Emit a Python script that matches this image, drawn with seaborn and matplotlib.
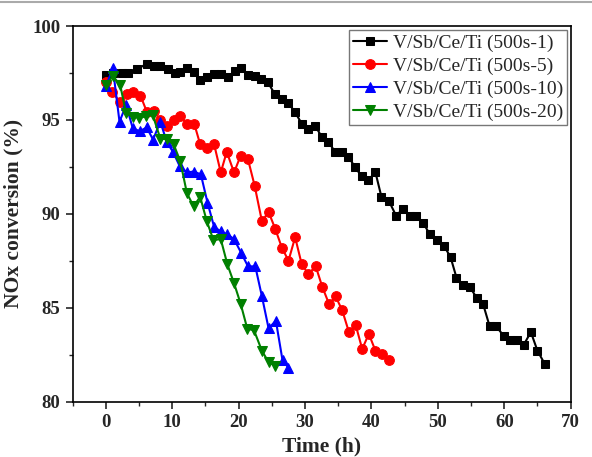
import matplotlib
matplotlib.use("Agg")
import matplotlib.pyplot as plt
import seaborn as sns
import pandas as pd
from matplotlib.ticker import MultipleLocator
from matplotlib.lines import Line2D

# ---- data ----
x_s1 = [0, 1.1, 2.4, 3.4, 4.7, 6.2, 7.2, 8.2, 9.4, 10.4, 11.2, 12.2, 13.2, 14.2, 15.2,
        16.3, 17.3, 18.4, 19.4, 20.3, 21.4, 22.4, 23.4, 24.4, 25.4, 26.5, 27.5, 28.5,
        29.5, 30.5, 31.5, 32.5, 33.5, 34.5, 35.5, 36.5, 37.5, 38.5, 39.5, 40.6, 41.5,
        42.6, 43.7, 44.7, 45.8, 46.7, 47.8, 48.8, 49.8, 50.9, 51.9, 52.8, 53.8, 54.8,
        55.9, 56.8, 57.8, 58.8, 59.9, 60.9, 61.9, 62.9, 64.0, 65.0, 66.1]
y_s1 = [97.4, 97.5, 97.5, 97.5, 97.7, 98.0, 97.85, 97.85, 97.7, 97.5, 97.55, 97.75,
        97.55, 97.1, 97.3, 97.45, 97.45, 97.3, 97.6, 97.75, 97.4, 97.35, 97.2, 97.0,
        96.4, 96.1, 95.9, 95.4, 94.8, 94.5, 94.7, 94.1, 93.85, 93.3, 93.3, 93.05, 92.5,
        92.0, 91.8, 92.2, 90.9, 90.7, 89.9, 90.25, 89.9, 89.9, 89.5, 88.9, 88.6, 88.3,
        87.7, 86.6, 86.2, 86.1, 85.5, 85.2, 84.0, 84.0, 83.5, 83.3, 83.3, 83.0, 83.7,
        82.7, 82.0]

x_s5 = [0, 0.9, 2.15, 3.2, 4.15, 5.2, 6.2, 7.2, 8.2, 9.2, 10.2, 11.2, 12.2, 13.3, 14.2,
        15.2, 16.3, 17.3, 18.2, 19.3, 20.3, 21.4, 22.4, 23.5, 24.5, 25.5, 26.5, 27.5,
        28.5, 29.5, 30.5, 31.6, 32.6, 33.6, 34.6, 35.6, 36.6, 37.6, 38.6, 39.6, 40.6,
        41.6, 42.7]
y_s5 = [97.0, 96.5, 95.95, 96.4, 96.5, 96.3, 95.4, 95.5, 95.0, 94.7, 95.0, 95.2, 94.8,
        94.8, 93.7, 93.5, 93.7, 92.2, 93.3, 92.2, 93.1, 92.9, 91.5, 89.6, 90.1, 89.2,
        88.2, 87.5, 88.75, 87.3, 86.8, 87.2, 86.1, 85.2, 85.6, 84.85, 83.7, 84.1, 82.8,
        83.6, 82.7, 82.55, 82.2]

x_s10 = [0, 1.05, 2.05, 3.05, 4.05, 5.1, 6.15, 7.1, 8.2, 9.2, 10.1, 11.1, 12.2, 13.2,
         14.3, 15.3, 16.3, 17.3, 18.3, 19.3, 20.4, 21.4, 22.5, 23.5, 24.5, 25.6, 26.6,
         27.5]
y_s10 = [96.8, 97.75, 94.9, 95.8, 94.55, 94.4, 94.6, 93.95, 94.9, 93.8, 93.3, 92.55,
         92.2, 92.25, 92.1, 90.6, 89.3, 89.06, 88.9, 88.65, 87.9, 87.2, 87.2, 85.6, 83.9,
         84.3, 82.2, 81.8]

x_s20 = [0.05, 1.05, 2.15, 3.05, 4.05, 5.05, 6.05, 7.05, 8.2, 9.2, 10.2, 11.2, 12.2,
         13.2, 14.2, 15.2, 16.2, 17.3, 18.3, 19.3, 20.3, 21.3, 22.3, 23.5, 24.5, 25.5]
y_s20 = [96.86, 97.34, 96.86, 95.35, 95.18, 95.1, 95.2, 95.27, 94.0, 93.97, 93.7, 92.8,
         91.1, 90.4, 90.9, 89.6, 88.6, 88.65, 87.3, 86.3, 85.2, 83.87, 83.8, 82.7, 82.1,
         81.9]

labels = ["V/Sb/Ce/Ti (500s-1)", "V/Sb/Ce/Ti (500s-5)",
          "V/Sb/Ce/Ti (500s-10)", "V/Sb/Ce/Ti (500s-20)"]
x_ticks = [0, 10, 20, 30, 40, 50, 60, 70]
y_ticks = [80, 85, 90, 95, 100]

sns.set_style("ticks")
plt.rcParams['font.family'] = ['Liberation Serif', 'DejaVu Serif']

fig = plt.figure(figsize=(5.92, 4.57), dpi=100)
ax = fig.add_axes([0.1228, 0.1214, 0.8412, 0.8216])

series = [(x_s1, y_s1, labels[0], 'black', 's', 6.0),
          (x_s5, y_s5, labels[1], 'red', 'o', 7.0),
          (x_s10, y_s10, labels[2], 'blue', '^', 7.5),
          (x_s20, y_s20, labels[3], 'green', 'v', 7.5)]
for xs, ys, lab, col, mk, ms in series:
    df = pd.DataFrame({'x': xs, 'y': ys})
    sns.lineplot(data=df, x='x', y='y', ax=ax, color=col, marker=mk,
                 markersize=ms, markeredgecolor=col, markerfacecolor=col,
                 linewidth=1.5, label=lab, sort=False, estimator=None)

ax.set_xlim(-5, 70)
ax.set_ylim(80, 100)
ax.set_xticks(x_ticks)
ax.set_yticks(y_ticks)
ax.xaxis.set_minor_locator(MultipleLocator(5))
ax.yaxis.set_minor_locator(MultipleLocator(2.5))
ax.tick_params(which='major', direction='out', length=5, width=1.2,
               top=False, right=False, labelsize=13.5, pad=4)
ax.tick_params(which='minor', direction='out', length=3, width=1.0,
               top=False, right=False)
for lbl in ax.get_xticklabels() + ax.get_yticklabels():
    lbl.set_fontweight('bold')
for sp in ax.spines.values():
    sp.set_linewidth(1.2)
    sp.set_color('black')
    sp.set_visible(True)

ax.set_xlabel("Time (h)", fontsize=15.5, fontweight='bold', labelpad=4)
ax.set_ylabel("NOx conversion (%)", fontsize=15.5, fontweight='bold', labelpad=6)

leg = ax.legend(loc='upper right', fontsize=14, frameon=True, fancybox=False,
                edgecolor='#555555', handlelength=1.75, handletextpad=0.3,
                borderpad=0.2, labelspacing=0.28, borderaxespad=0.2)
leg.get_frame().set_linewidth(1.0)

fig.add_artist(Line2D([0, 1], [0.996, 0.996], transform=fig.transFigure,
                      color='#aaaaaa', linewidth=1.5))

fig.savefig("out.png", dpi=100)
